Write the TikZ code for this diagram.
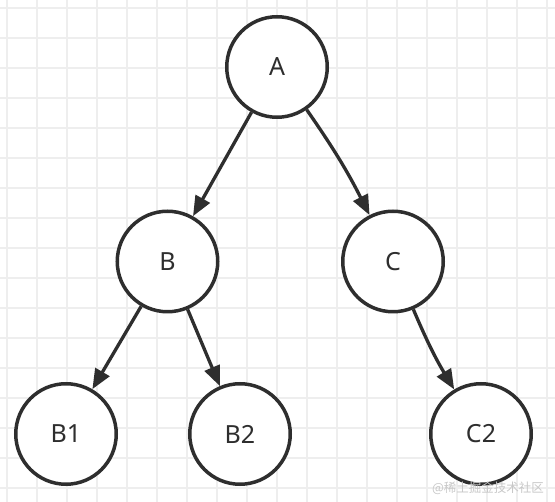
\documentclass[tikz,border=0pt]{standalone}
\usepackage{fontspec}
\setmainfont{Noto Sans}
\newfontfamily\cjk{Noto Sans CJK SC}
\usetikzlibrary{arrows.meta}
\definecolor{ink}{HTML}{2E2E2E}
\definecolor{gridc}{HTML}{EEEEEE}
\definecolor{wm}{HTML}{C8C8C8}
\tikzset{
  treenode/.style={circle, draw=ink, line width=3.5pt, fill=white, minimum size=100.5pt, inner sep=0pt, text=ink, font=\fontsize{25}{25}\selectfont},
  arr/.style={draw=ink, line width=3.3pt, -{Triangle[length=20pt,width=16pt]}},
  gridline/.style={draw=gridc, line width=1.7pt}
}
\begin{document}
\begin{tikzpicture}[x=1pt,y=-1pt]
\useasboundingbox (0,0) rectangle (555,502);
\fill[white] (0,0) rectangle (555,502);
\foreach \i in {0,...,18} {
  \draw[gridline] (6.7+30*\i,0) -- (6.7+30*\i,502);
}
\foreach \j in {0,...,16} {
  \draw[gridline] (0,8+30*\j) -- (555,8+30*\j);
}
\node[treenode] (A) at (277,67) {A};
\node[treenode] (B) at (167.5,261.5) {B};
\node[treenode] (C) at (393,261.5) {C};
\node[treenode] (B1) at (66,434) {B1};
\node[treenode] (B2) at (240,434) {B2};
\node[treenode] (C2) at (481,434) {C2};
\draw[arr] (A) -- (B);
\draw[arr] (A) to[bend left=4] (C);
\draw[arr] (B) -- (B1);
\draw[arr] (B) -- (B2);
\draw[arr] (C) to[bend right=4] (C2);
\node[text=wm, font=\cjk\fontsize{12.5}{13}\selectfont] (wm) at (488,488) {@稀土掘金技术社区};
\end{tikzpicture}
\end{document}
